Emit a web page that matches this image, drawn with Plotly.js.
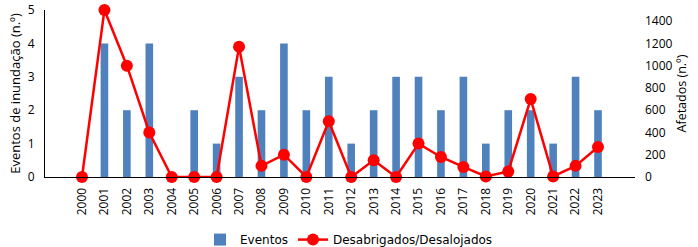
<!DOCTYPE html>
<html>
<head>
<meta charset="utf-8">
<script src="https://cdn.plot.ly/plotly-3.0.1.min.js"></script>
<style>html,body{margin:0;padding:0;background:#fff;}#chart{width:698px;height:247px;}</style>
</head>
<body>
<div id="chart"></div>
<script>
const years = ["2000","2001","2002","2003","2004","2005","2006","2007","2008","2009","2010","2011","2012","2013","2014","2015","2016","2017","2018","2019","2020","2021","2022","2023"];
const eventos = [0,4,2,4,0,2,1,3,2,4,2,3,1,2,3,3,2,3,1,2,2,1,3,2];
const desabrigados = [0,1500,1000,400,0,0,0,1170,100,200,0,500,0,150,0,300,180,90,5,50,700,5,100,270];
const leftTicks = [0,1,2,3,4,5];
const rightTicks = [0,200,400,600,800,1000,1200,1400];

const font = "'Open Sans', 'Noto Sans', sans-serif";
const traces = [
  {type:'bar', x:years, y:eventos, name:'Eventos', marker:{color:'#4F81BD'}, yaxis:'y'},
  {type:'scatter', mode:'lines+markers', x:years, y:desabrigados, name:'Desabrigados/Desalojados',
   line:{color:'#FF0000', width:2.5}, marker:{color:'#FF0000', size:12}, yaxis:'y2', cliponaxis:false}
];
const layout = {
  width:698, height:247,
  margin:{l:45, r:63, t:10, b:70},
  paper_bgcolor:'#fff', plot_bgcolor:'#fff',
  bargap:0.66,
  showlegend:true,
  font:{family:font, size:12, color:'#000'},
  xaxis:{type:'category', automargin:false, tickangle:-90, ticklabelstandoff:5, showline:true, linecolor:'#000', linewidth:1, showgrid:false, ticks:'', tickfont:{size:12}, zeroline:false},
  yaxis:{range:[0,5], automargin:false, tickvals:leftTicks, ticklabelstandoff:7, showline:true, linecolor:'#000', showgrid:false, zeroline:false, ticks:'',
         title:{text:'Eventos de inundação (n.º)', font:{size:13}, standoff:4}, tickfont:{size:12}},
  yaxis2:{range:[0,1500], automargin:false, tickvals:rightTicks, ticklabelstandoff:9, overlaying:'y', side:'right', showline:false, showgrid:false, zeroline:false, ticks:'',
         title:{text:'Afetados (n.º)', font:{size:12.5}, standoff:4}, tickfont:{size:12}},
  legend:{orientation:'h', x:0.5, xanchor:'center', xref:'container', yref:'container', y:0.03, yanchor:'middle', font:{family:"'DejaVu Sans', sans-serif", size:12}, traceorder:'normal'}
};
Plotly.newPlot('chart', traces, layout, {displayModeBar:false, staticPlot:true});
</script>
</body>
</html>
